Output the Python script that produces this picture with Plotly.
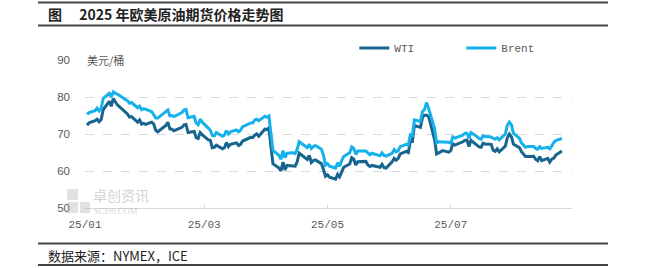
import plotly.graph_objects as go

dates = [
 "2025-01-02","2025-01-03","2025-01-06","2025-01-07","2025-01-08","2025-01-09","2025-01-10",
 "2025-01-13","2025-01-14","2025-01-15","2025-01-16","2025-01-17","2025-01-21","2025-01-22",
 "2025-01-23","2025-01-24","2025-01-27","2025-01-28","2025-01-29","2025-01-30","2025-01-31",
 "2025-02-03","2025-02-04","2025-02-05","2025-02-06","2025-02-07","2025-02-10","2025-02-11",
 "2025-02-12","2025-02-13","2025-02-14","2025-02-18","2025-02-19","2025-02-20","2025-02-21",
 "2025-02-24","2025-02-25","2025-02-26","2025-02-27","2025-02-28","2025-03-03","2025-03-04",
 "2025-03-05","2025-03-06","2025-03-07","2025-03-10","2025-03-11","2025-03-12","2025-03-13",
 "2025-03-14","2025-03-17","2025-03-18","2025-03-19","2025-03-20","2025-03-21","2025-03-24",
 "2025-03-25","2025-03-26","2025-03-27","2025-03-28","2025-03-31","2025-04-01","2025-04-02",
 "2025-04-03","2025-04-04","2025-04-07","2025-04-08","2025-04-09","2025-04-10","2025-04-11",
 "2025-04-14","2025-04-15","2025-04-16","2025-04-17","2025-04-21","2025-04-22","2025-04-23",
 "2025-04-24","2025-04-25","2025-04-28","2025-04-29","2025-04-30","2025-05-01","2025-05-02",
 "2025-05-05","2025-05-06","2025-05-07","2025-05-08","2025-05-09","2025-05-12","2025-05-13",
 "2025-05-14","2025-05-15","2025-05-16","2025-05-19","2025-05-20","2025-05-21","2025-05-22",
 "2025-05-23","2025-05-27","2025-05-28","2025-05-29","2025-05-30","2025-06-02","2025-06-03",
 "2025-06-04","2025-06-05","2025-06-06","2025-06-09","2025-06-10","2025-06-11","2025-06-12",
 "2025-06-13","2025-06-16","2025-06-17","2025-06-18","2025-06-19","2025-06-20","2025-06-23",
 "2025-06-24","2025-06-25","2025-06-26","2025-06-27","2025-06-30","2025-07-01","2025-07-02",
 "2025-07-03","2025-07-07","2025-07-08","2025-07-09","2025-07-10","2025-07-11","2025-07-14",
 "2025-07-15","2025-07-16","2025-07-17","2025-07-18","2025-07-21","2025-07-22","2025-07-23",
 "2025-07-24","2025-07-25","2025-07-28","2025-07-29","2025-07-30","2025-07-31","2025-08-01",
 "2025-08-04","2025-08-05","2025-08-06","2025-08-07","2025-08-08","2025-08-11","2025-08-12",
 "2025-08-13","2025-08-14","2025-08-15","2025-08-18","2025-08-19","2025-08-20","2025-08-21",
 "2025-08-22","2025-08-25"]

wti = [
 72.4,73.0,73.6,74.0,73.3,73.9,76.6,
 78.8,77.5,79.6,78.7,77.9,75.9,75.4,
 74.6,74.7,73.2,73.8,72.7,72.9,72.6,
 73.2,72.7,71.0,70.6,71.0,72.3,73.2,
 71.4,71.3,70.9,71.8,72.5,72.6,70.4,
 70.7,69.0,68.8,70.4,69.8,68.4,68.3,
 66.3,66.4,67.0,66.0,66.3,67.7,66.6,
 67.2,67.6,66.9,67.2,68.1,68.3,69.1,
 69.0,69.7,70.0,69.4,71.3,71.2,71.6,
 66.9,62.0,60.8,60.0,62.4,60.3,61.5,
 61.5,61.3,62.5,64.8,63.1,64.2,62.3,
 62.8,63.0,62.0,60.4,58.6,59.0,58.3,
 57.8,59.1,58.4,59.9,61.0,61.9,63.6,
 63.2,61.6,62.5,62.7,62.6,61.6,61.2,
 61.5,61.0,61.8,60.9,60.8,62.5,63.4,
 62.9,63.4,64.6,65.3,65.0,68.0,68.0,
 72.3,71.8,74.5,75.1,75.1,74.8,68.5,
 64.6,64.9,65.2,65.5,65.1,65.5,67.4,
 67.0,67.9,68.3,68.4,66.6,68.3,67.0,
 66.5,66.4,67.5,67.3,67.2,65.6,65.3,
 66.0,65.2,66.7,69.0,70.0,69.3,67.3,
 66.3,65.2,64.4,63.9,63.9,64.0,63.2,
 62.8,63.9,62.8,63.4,62.4,63.2,63.5,
 64.3,65.4]

brent = [
 75.3,75.8,76.3,77.0,76.2,76.9,79.6,
 81.0,80.0,81.4,81.0,80.8,79.3,79.0,
 78.3,78.5,77.1,77.5,76.6,76.8,76.7,
 76.0,75.2,74.3,74.3,74.7,75.9,76.5,
 74.9,75.0,74.7,75.8,76.5,76.6,74.4,
 74.8,73.0,72.5,74.0,73.2,71.6,71.0,
 69.6,69.5,70.4,69.4,69.7,70.9,70.0,
 70.6,71.1,70.6,71.0,72.0,72.2,73.0,
 73.0,73.8,74.0,73.6,74.8,74.5,74.9,
 70.1,65.6,64.2,63.2,65.5,63.6,64.8,
 64.9,64.7,65.9,67.9,66.3,67.2,66.1,
 66.6,66.9,65.9,64.3,61.6,62.0,61.3,
 60.8,62.2,61.3,62.8,63.9,64.9,66.5,
 66.1,64.5,65.4,65.5,65.4,64.9,64.4,
 64.8,64.1,64.9,64.2,64.0,64.8,65.8,
 65.2,65.5,66.6,67.2,67.0,69.8,69.6,
 73.8,73.4,76.0,76.6,78.5,77.0,71.5,
 67.6,67.9,67.9,68.0,67.8,67.5,69.2,
 68.9,69.7,70.2,70.2,68.9,70.4,69.3,
 68.8,68.6,69.5,69.3,69.2,68.8,68.6,
 69.0,68.4,70.0,72.4,73.2,72.5,70.2,
 68.8,67.6,66.9,66.4,66.6,66.6,66.1,
 65.9,66.6,66.1,66.4,66.0,66.8,67.7,
 68.2,68.8]

tick_vals = ["2025-01-01", "2025-03-01", "2025-05-01", "2025-07-01"]
tick_text = ["25/01", "25/03", "25/05", "25/07"]
y_ticks = [50, 60, 70, 80, 90]

title_text = "图　 2025 年欧美原油期货价格走势图"
source_text = "数据来源：NYMEX，ICE"
unit_text = "美元/桶"

WTI_COLOR = "#17648F"
BRENT_COLOR = "#14B1EB"
GRID = "#D9D9D9"
TXT = "#595959"

fig = go.Figure()
fig.add_trace(go.Scatter(x=dates, y=wti, name="WTI", mode="lines",
                         line=dict(color=WTI_COLOR, width=3)))
fig.add_trace(go.Scatter(x=dates, y=brent, name="Brent", mode="lines",
                         line=dict(color=BRENT_COLOR, width=3)))

fig.update_layout(
    width=650, height=268,
    margin=dict(l=85, r=78, t=60, b=60),
    paper_bgcolor="white", plot_bgcolor="white",
    showlegend=True,
    legend=dict(orientation="h", x=0.553, y=1.081, xanchor="left", yanchor="middle",
                font=dict(family="Liberation Mono", size=11, color=TXT),
                entrywidth=62, entrywidthmode="pixels",
                bgcolor="rgba(0,0,0,0)", tracegroupgap=0, itemwidth=30),
    xaxis=dict(type="date", range=["2025-01-01", "2025-08-30"],
               tickvals=tick_vals, ticktext=tick_text,
               showgrid=False, showline=True, linecolor=GRID, linewidth=1,
               ticks="inside", ticklen=3, tickcolor=GRID,
               ticklabelstandoff=6,
               tickfont=dict(family="Liberation Mono", size=11, color=TXT),
               zeroline=False),
    yaxis=dict(range=[50, 90], tickvals=y_ticks,
               showgrid=True, gridcolor=GRID, griddash="dash", gridwidth=1,
               zeroline=False, showline=False, ticks="",
               ticklabelstandoff=14,
               tickfont=dict(family="Liberation Sans", size=11.5, color=TXT)),
)

# header / footer rules
for yy, w in [(2.5, 2), (25.5, 2), (243.5, 2), (265, 2)]:
    fig.add_shape(type="line", xref="paper", yref="paper",
                  x0=(38 - 85) / 487, x1=(608 - 85) / 487,
                  y0=(208 - yy) / 148, y1=(208 - yy) / 148,
                  line=dict(color="#444444", width=w))

fig.add_annotation(text="<b>" + title_text + "</b>", xref="paper", yref="paper",
                   x=(46 - 85) / 487, y=(208 - 14) / 148, xanchor="left", yanchor="middle",
                   showarrow=False,
                   font=dict(family="Noto Sans CJK SC", size=14, color="#222222"))
fig.add_annotation(text=source_text, xref="paper", yref="paper",
                   x=(46 - 85) / 487, y=(208 - 255) / 148, xanchor="left", yanchor="middle",
                   showarrow=False,
                   font=dict(family="Noto Sans CJK SC", size=13, color="#222222"))
fig.add_annotation(text=unit_text, xref="paper", yref="y",
                   x=0.0, y=90, xanchor="left", yanchor="middle",
                   showarrow=False, bgcolor="white", borderpad=1,
                   font=dict(family="Noto Sans CJK SC", size=11, color=TXT))

# watermark
fig.add_annotation(text="卓创资讯", xref="paper", yref="paper",
                   x=(91 - 85) / 487, y=(208 - 195) / 148, xanchor="left", yanchor="middle",
                   showarrow=False,
                   font=dict(family="Noto Sans CJK SC", size=14, color="rgba(150,150,150,0.45)"))
fig.add_annotation(text="SCI99.COM", xref="paper", yref="paper",
                   x=(92 - 85) / 487, y=(208 - 211) / 148, xanchor="left", yanchor="middle",
                   showarrow=False,
                   font=dict(family="Liberation Serif", size=8.5, color="rgba(150,150,150,0.45)"))
for (ax0, ay0, ax1, ay1) in [(67, 189, 78, 200), (67, 202, 78, 213), (80, 202, 90, 213)]:
    fig.add_shape(type="rect", xref="paper", yref="paper",
                  x0=(ax0 - 85) / 487, x1=(ax1 - 85) / 487,
                  y0=(208 - ay1) / 148, y1=(208 - ay0) / 148,
                  line=dict(width=0), fillcolor="rgba(170,170,170,0.35)")

fig.write_html("out.html")
